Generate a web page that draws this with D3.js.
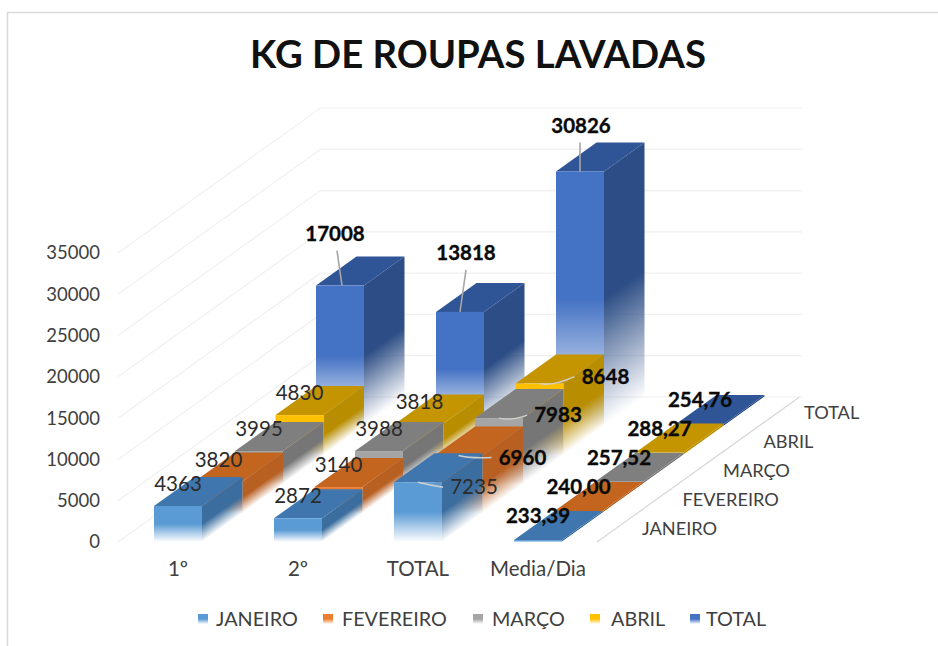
<!DOCTYPE html>
<html><head><meta charset="utf-8">
<script src="https://cdn.jsdelivr.net/npm/d3@7/dist/d3.min.js"></script>
<style>html,body{margin:0;padding:0;background:#fff}svg{display:block}text{font-family:Lato,"Open Sans",sans-serif}</style>
</head><body><svg id="c" width="938" height="646"></svg>
<script>
const categories = ["1º","2º","TOTAL","Media/Dia"];
const seriesNames = ["JANEIRO","FEVEREIRO","MARÇO","ABRIL","TOTAL"];
const janeiro   = [4363,2872,7235,233.39];
const fevereiro = [3820,3140,6960,240.00];
const marco     = [3995,3988,7983,257.52];
const abril     = [4830,3818,8648,288.27];
const total     = [17008,13818,30826,254.76];
const valueTicks = [0,5000,10000,15000,20000,25000,30000,35000];
const seriesValues = [janeiro,fevereiro,marco,abril,total];

const frontColors = ["#5B9BD5","#ED7D31","#A5A5A5","#FFC000","#4472C4"];
const topColors   = ["#3F76AE","#C3651F","#7F7F7F","#C49500","#2F5597"];
const sideColors  = ["#3B6E9F","#B85F22","#767676","#B98D00","#2C4D85"];

const svg = d3.select("#c"), defs = svg.append("defs");
const x = d3.scaleBand(categories,[118,598]).paddingInner(.6).paddingOuter(.3);
const y = d3.scaleLinear([0,35000],[542,253]);
const depthX = d3.scalePoint(seriesNames,[0,162]);
const depthY = d3.scalePoint(seriesNames,[0,-116]);
const stepX = depthX.step(), stepY = depthY.step();
const wallX = stepX*5, wallY = stepY*5;
const fmtLabel = (v,c)=> c===3 ? d3.format(".2f")(v).replace(".",",") : String(v);

// frame
svg.append("path").attr("d","M7.5,646V12.5H938").attr("fill","none").attr("stroke","#d9d9d9").attr("stroke-width",1.5);

// title
svg.append("text").attr("x",478).attr("y",68).attr("text-anchor","middle")
  .attr("font-size",38.3).attr("font-weight",700).attr("fill","#111").text("KG DE ROUPAS LAVADAS");

// gridlines
const grid = svg.append("g").attr("fill","none");
valueTicks.forEach(v=>{
  grid.append("path").attr("d",`M118,${y(v)}L${118+wallX},${y(v)-wallY}L802,${y(v)-wallY}`)
    .attr("stroke","#f0f0f0").attr("stroke-width",1.2);
});
grid.append("path").attr("d",`M597,${y(0)}L${597+wallX},${y(0)-wallY}`).attr("stroke","#d9d9d9").attr("stroke-width",1.3);

// axes
const axY = svg.append("g").attr("transform","translate(105,0)")
  .call(d3.axisLeft(y).tickValues(valueTicks).tickSize(0).tickPadding(5).tickFormat(d3.format("d")));
axY.select(".domain").remove();
axY.selectAll("text").attr("font-size",18.5).attr("font-family","Lato").attr("fill","#404040").attr("dy","0.32em");
const axX = svg.append("g").attr("transform","translate(0,556)")
  .call(d3.axisBottom(x).tickSize(0).tickPadding(5));
axX.select(".domain").remove();
axX.selectAll("text").attr("font-size",20.5).attr("font-family","Lato").attr("fill","#404040");

svg.append("g").selectAll("text").data(seriesNames).join("text")
  .attr("x",d=>642+depthX(d)).attr("y",d=>535+depthY(d))
  .attr("font-size",18.2).attr("fill","#404040").text(d=>d);

// gradients
const fade = (g,c)=>{
  g.append("stop").attr("offset","50%").attr("stop-color",c);
  g.append("stop").attr("offset","100%").attr("stop-color",c).attr("stop-opacity",0);
};
frontColors.forEach((c,i)=>{
  fade(defs.append("linearGradient").attr("id","f"+i).attr("x1",0).attr("y1",0).attr("x2",0).attr("y2",1),c);
});

// bars, back series first
const bars = svg.append("g");
d3.range(seriesNames.length-1,-1,-1).forEach(s=>{
  const name = seriesNames[s];
  categories.forEach((cat,c)=>{
    const v = seriesValues[s][c];
    const x0 = x(cat)+depthX(name), w = x.bandwidth();
    const yB = y(0)+depthY(name), yT = y(v)+depthY(name), h = yB-yT;
    const g = bars.append("g");
    // side face
    const n = Math.hypot(stepX,stepY), nx = stepY/n, ny = stepX/n, d = h*ny;
    const id = `s${s}_${c}`;
    fade(defs.append("linearGradient").attr("id",id).attr("gradientUnits","userSpaceOnUse")
      .attr("x1",x0+w).attr("y1",yT).attr("x2",x0+w+nx*d).attr("y2",yT+ny*d),sideColors[s]);
    g.append("path").attr("fill",`url(#${id})`)
      .attr("d",`M${x0+w},${yT}L${x0+w+stepX},${yT-stepY}L${x0+w+stepX},${yB-stepY}L${x0+w},${yB}Z`);
    // top face
    g.append("path").attr("fill",topColors[s])
      .attr("d",`M${x0},${yT}L${x0+w},${yT}L${x0+w+stepX},${yT-stepY}L${x0+stepX},${yT-stepY}Z`);
    // front face
    g.append("rect").attr("x",x0).attr("y",yT).attr("width",w).attr("height",h).attr("fill",`url(#f${s})`);
  });
});

// data labels, anchored on each bar's front-top centre
const regular = (s,c)=> c<2 && s<4 || (s===0 && c===2);
const labelOffset = (s,c)=>{
  if(c<2 && s<4) return [0,-22];
  if(c===3) return [0,-24];
  if(s===4) return [[-5,-52],[6,-59],[1,-46]][c];
  return [[56,64,59,66][s],[5,2,-3,-7][s]];
};
const labels = svg.append("g"), leadG = svg.append("g").attr("fill","none");
seriesNames.forEach((name,s)=>categories.forEach((cat,c)=>{
  const v = seriesValues[s][c];
  const cx = x(cat)+x.bandwidth()/2+depthX(name), ty = y(v)+depthY(name);
  const [ox,oy] = labelOffset(s,c);
  if(s===4 && c<3){
    const bx = [[2,-3],[0,6],[0,0]][c];
    leadG.append("line").attr("x1",cx+bx[0]).attr("y1",ty).attr("x2",cx+bx[1]).attr("y2",ty+oy+17)
      .attr("stroke","#a6a6a6").attr("stroke-width",1.6);
  } else if(c===2){
    leadG.append("path").attr("d",`M${cx},${ty}Q${cx+12},${ty+3} ${cx+ox-31},${ty+oy}`)
      .attr("stroke","#cfcfcf").attr("stroke-width",1.4);
  }
  const reg = regular(s,c);
  labels.append("text").attr("x",cx+ox).attr("y",ty+oy).attr("dy","0.35em").attr("text-anchor","middle")
    .attr("font-size",20.5).attr("font-weight",reg?400:700)
    .attr("fill",reg?"#2b2b2b":"#0a0a0a")
    .attr("stroke",reg?"none":"#0a0a0a").attr("stroke-width",.35).text(fmtLabel(v,c));
}));

// legend
const legX = d3.scaleOrdinal(seriesNames,[198,323,473,590,690]);
const lg = svg.append("g").selectAll("g").data(seriesNames).join("g")
  .attr("transform",d=>`translate(${legX(d)},614)`);
lg.append("rect").attr("width",10).attr("height",10).attr("fill",(d,i)=>`url(#f${i})`);
lg.append("text").attr("x",(d,i)=>[18,19,19,21,16][i]).attr("y",5).attr("dy","0.35em")
  .attr("font-size",19.8).attr("fill","#404040").text(d=>d);
</script></body></html>
